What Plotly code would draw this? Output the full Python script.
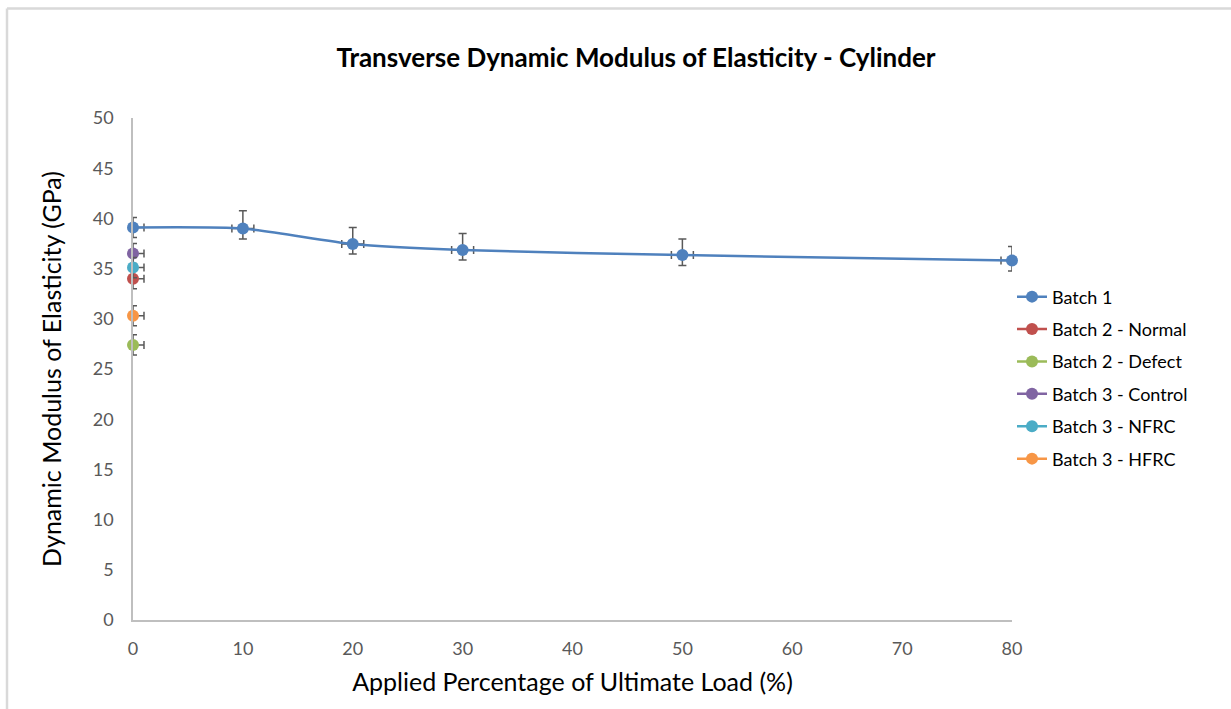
import plotly.graph_objects as go

# Data
load_pct = [0, 10, 20, 30, 50, 80]
batch1 = [39.1, 39.0, 37.45, 36.85, 36.35, 35.8]
batch1_err_plus = [1.0, 1.75, 1.65, 1.65, 1.6, 1.4]
batch1_err_minus = [1.0, 1.05, 1.0, 1.0, 1.05, 1.05]
batch1_xerr = [1, 1, 1, 1, 1, 1]

single_names = ["Batch 2 - Normal", "Batch 2 - Defect", "Batch 3 - Control",
                "Batch 3 - NFRC", "Batch 3 - HFRC"]
single_values = [34.0, 27.4, 36.5, 35.1, 30.3]
single_err = [1.0, 1.0, 1.0, 1.0, 1.0]
single_xerr = [1, 1, 1, 1, 1]

colors = ["#4F81BD", "#C0504D", "#9BBB59", "#8064A2", "#4BACC6", "#F79646"]
err_color = "#595959"
font_family = "Lato, 'Open Sans', sans-serif"

fig = go.Figure()
fig.add_trace(go.Scatter(
    x=load_pct, y=batch1, name="Batch 1", mode="lines+markers",
    line=dict(color=colors[0], width=2.5, shape="spline", smoothing=0.6),
    marker=dict(size=12, color=colors[0]),
    error_y=dict(type="data", array=batch1_err_plus, arrayminus=batch1_err_minus,
                 color=err_color, thickness=1.5, width=4),
    error_x=dict(type="data", array=batch1_xerr, color=err_color, thickness=1.5, width=4),
    legendgroup="g0", cliponaxis=False,
))
for i, (nm, v) in enumerate(zip(single_names, single_values)):
    fig.add_trace(go.Scatter(
        x=[0], y=[v], name=nm, mode="lines+markers",
        line=dict(color=colors[i + 1], width=2.5),
        marker=dict(size=12, color=colors[i + 1]),
        error_y=dict(type="data", array=[single_err[i]], color=err_color, thickness=1.5, width=4),
        error_x=dict(type="data", array=[single_xerr[i]], arrayminus=[0],
                     color=err_color, thickness=1.5, width=4),
        legendgroup=f"g{i+1}", cliponaxis=False,
    ))

W, H = 1231, 709
L, R, T, B = 133, 1012, 118, 620
fig.update_layout(
    width=W, height=H,
    margin=dict(l=L, r=W - R, t=T, b=H - B, autoexpand=False),
    paper_bgcolor="white", plot_bgcolor="white",
    font=dict(family=font_family, color="#595959", size=17),
    title=dict(text="<b>Transverse Dynamic Modulus of Elasticity - Cylinder</b>",
               x=636 / W, xref="container", xanchor="center",
               y=1 - 58 / H, yref="container", yanchor="middle",
               font=dict(size=26, color="#000000", family=font_family)),
    xaxis=dict(range=[0, 80], tickvals=[0, 10, 20, 30, 40, 50, 60, 70, 80],
               showgrid=False, zeroline=False, showline=True, linecolor="#BFBFBF",
               linewidth=1.5, ticks="", ticklen=0, ticklabelstandoff=12,
               tickfont=dict(size=18, color="#595959"),
               title=dict(text="Applied Percentage of Ultimate Load (%)",
                          font=dict(size=25, color="#000000"), standoff=15)),
    yaxis=dict(range=[0, 50], dtick=5, showgrid=False, zeroline=False,
               showline=True, linecolor="#BFBFBF", linewidth=1.5, ticks="",
               ticklabelstandoff=14,
               tickfont=dict(size=18, color="#595959"),
               title=dict(text="Dynamic Modulus of Elasticity (GPa)",
                          font=dict(size=25, color="#000000"), standoff=24)),
    legend=dict(x=1.0, xanchor="left", y=(B - 296) / (B - T) + 0.035, yanchor="top",
                font=dict(size=18, color="#000000"), tracegroupgap=6,
                bgcolor="rgba(0,0,0,0)"),
    showlegend=True,
)

# chart frame (left and top edges visible in the crop)
fig.add_shape(type="line", xref="paper", yref="paper",
              x0=(7 - L) / (R - L), x1=(7 - L) / (R - L),
              y0=(B - 8.5) / (B - T), y1=(B - 720) / (B - T),
              line=dict(color="#D9D9D9", width=2.5), layer="below")
fig.add_shape(type="line", xref="paper", yref="paper",
              x0=(7 - L) / (R - L), x1=(1240 - L) / (R - L),
              y0=(B - 8.5) / (B - T), y1=(B - 8.5) / (B - T),
              line=dict(color="#D9D9D9", width=2.5), layer="below")

fig.write_html("out.html")
